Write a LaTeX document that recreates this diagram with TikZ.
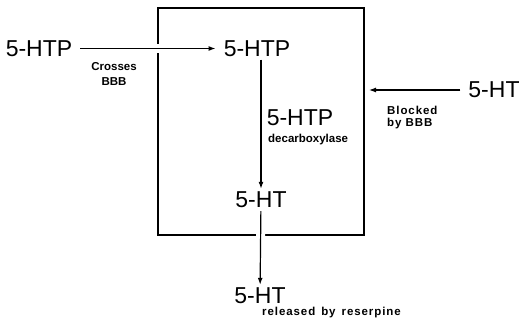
\documentclass[tikz,border=0pt]{standalone}
\usepackage{fontspec}
\setmainfont{Liberation Sans}
\newfontfamily\spacedfont[LetterSpace=8]{Liberation Sans}
\usetikzlibrary{arrows.meta, positioning}

\begin{document}
\begin{tikzpicture}[x=1pt, y=-1pt,
  big/.style={font=\fontsize{23}{26}\selectfont, inner xsep=8pt, inner ysep=3pt},
  small/.style={font=\fontsize{11.5}{15}\selectfont\bfseries, inner sep=0pt},
  spaced/.style={font=\fontsize{11.5}{12}\selectfont\spacedfont\bfseries, inner sep=0pt},
  arr/.style={-{Latex[length=7pt, width=5pt]}, line width=1.2pt},
  gap/.style={preaction={draw=white, -, line width=9pt}}]

\useasboundingbox (0,0) rectangle (522,321);

% the brain compartment
\coordinate (boxnw) at (158,8);
\coordinate (boxse) at (364,235);
\draw[line width=1.7pt] (boxnw) rectangle (boxse);

% compounds
\node[big] (htpout) at (39,48.5) {5-HTP};
\node[big] (htpin) at (257,48.5) {5-HTP};
\node[big] (enzyme) at (300,118) {5-HTP};
\node[small, anchor=base west] (enzymename) at (268,142) {decarboxylase};
\node[big] (htin) at (261,200) {5-HT};
\node[big] (htout) at (260,296) {5-HT};
\node[spaced, anchor=base west] (reserpine) at (262,315) {released\hspace{6pt}by\hspace{6pt}reserpine};
\node[big] (htblood) at (494,90) {5-HT};

% barrier labels
\node[small, align=center, anchor=north] (crosses) at (114,62) {Crosses\\BBB};
\node[spaced, align=left, anchor=north west] (blocked) at (387,106) {Blocked\\by BBB};

% pathways
\draw[arr, gap] (htpout) -- (htpin);
\draw[arr] (htpin.south -| htin) -- (htin);
\draw[arr, gap] (htin) -- (htout);
\draw[arr] (htblood) -- ([xshift=5pt]htblood -| boxse);

\end{tikzpicture}
\end{document}
